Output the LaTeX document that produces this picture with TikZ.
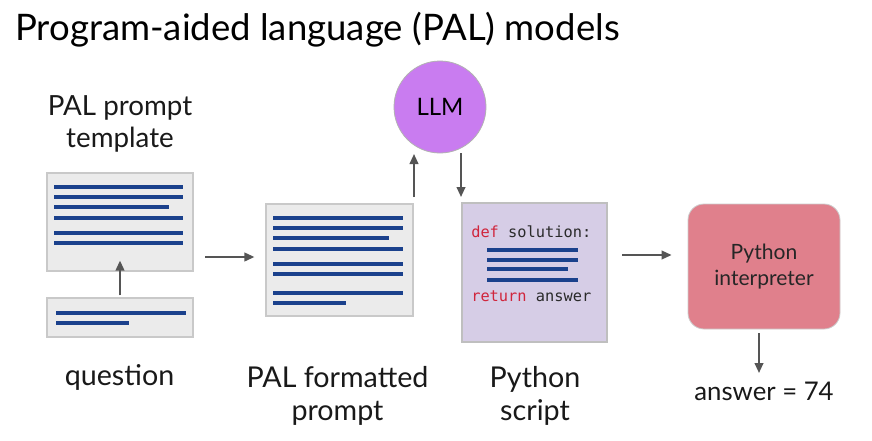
\documentclass[tikz,border=0pt]{standalone}
\usepackage{fontspec}
\setmainfont{Lato}
\setmonofont{DejaVu Sans Mono}
\usetikzlibrary{arrows.meta}
\definecolor{docfill}{HTML}{EBEBEB}
\definecolor{docedge}{HTML}{C9C9C9}
\definecolor{bar}{HTML}{1B418C}
\definecolor{arrowgray}{HTML}{555555}
\definecolor{llmfill}{HTML}{C97CF0}
\definecolor{scriptfill}{HTML}{D6CDE6}
\definecolor{interpfill}{HTML}{E0808C}
\definecolor{kw}{HTML}{D0253C}
\definecolor{codetext}{HTML}{2A2A2A}
\tikzset{
  x=0.75pt, y=-0.75pt,
  docbox/.style={draw=docedge, fill=docfill, line width=0.9pt, inner sep=0pt},
  textbar/.style={draw=bar, line width=3.2pt},
  arr/.style={draw=arrowgray, line width=1.4pt, -{Triangle[length=7.5pt,width=6.5pt]}},
  label/.style={font=\fontsize{21.5}{24.75}\selectfont, align=center, text=black!90, inner sep=0pt},
}
\begin{document}
\begin{tikzpicture}
\useasboundingbox (0,0) rectangle (872,440);
\fill[white] (0,0) rectangle (872,440);

% title
\node[anchor=base west, inner sep=0pt, font=\fontsize{27.4}{32}\selectfont] (title) at (15,40) {Program-aided language (PAL) models};

% prompt template and question
\node[label, font=\fontsize{20.8}{23.3}\selectfont, anchor=base] (tmpllbl) at (120,147) {PAL prompt\\template};
\node[docbox, minimum width=146*0.75pt, minimum height=98*0.75pt] (tmpl) at (120,222) {};
\foreach \yy/\xe in {187/183, 197/183, 207/169, 218/183, 233/183, 243/183}
  \draw[textbar] (54,\yy) -- (\xe,\yy);
\node[docbox, minimum width=146*0.75pt, minimum height=39*0.75pt] (quest) at (120,317.5) {};
\draw[textbar] (56,313) -- (186,313);
\draw[textbar] (56,323) -- (129,323);
\node[label, anchor=base] (questlbl) at (119.5,385) {question};
\draw[arr] ([yshift=2*0.75pt]quest.north) -- ([yshift=11*0.75pt]tmpl.south);

% formatted prompt
\node[docbox, minimum width=147*0.75pt, minimum height=112*0.75pt] (prompt) at (339.5,260) {};
\foreach \yy/\xe in {218/403, 228/403, 238/389, 249/403, 264/403, 274/403, 293/403, 303/346}
  \draw[textbar] (273,\yy) -- (\xe,\yy);
\node[label, anchor=base] (promptlbl) at (337.5,420) {PAL formatted\\prompt};
\coordinate (a1) at (205,257);
\draw[arr] (a1) -- ([xshift=-11*0.75pt]prompt.west |- a1);

% LLM
\node[circle, draw=black!30, line width=0.6pt, fill=llmfill, minimum size=92*0.75pt, inner sep=0pt,
      font=\fontsize{18}{22}\selectfont] (llm) at (440,107) {LLM};
\coordinate (upfoot) at (414,197);
\coordinate (uptip) at (414,154);
\draw[arr] (upfoot) -- (uptip);
\coordinate (dnfoot) at (461,153);
\coordinate (dntip) at (461,197);
\draw[arr] (dnfoot) -- (dntip);

% python script
\node[draw=black!25, fill=scriptfill, line width=0.8pt, minimum width=145*0.75pt, minimum height=139*0.75pt, inner sep=0pt] (script) at (534.5,272.5) {};
\node[anchor=base west, inner sep=0pt, font=\ttfamily\fontsize{11.5}{14}\selectfont] (defl) at (471,237) {\textcolor{kw}{def} \textcolor{codetext}{solution:}};
\foreach \yy/\xe in {250/578, 260/578, 269/568, 280/578}
  \draw[textbar] (487,\yy) -- (\xe,\yy);
\node[anchor=base west, inner sep=0pt, font=\ttfamily\fontsize{11.5}{14}\selectfont] (retl) at (471,301) {\textcolor{kw}{return} \textcolor{codetext}{answer}};
\node[label, anchor=base] (scriptlbl) at (535,420) {Python\\script};

% interpreter
\node[draw=black!20, fill=interpfill, line width=0.6pt, rounded corners=12pt, minimum width=152*0.75pt, minimum height=125*0.75pt,
      align=center, font=\fontsize{15.8}{19}\selectfont, text=black!85] (interp) at (764,266.5) {Python\\interpreter};
\coordinate (a2) at (622,255);
\draw[arr] (a2) -- ([xshift=-16*0.75pt]interp.west |- a2);
\coordinate (anspt) at (759,373);
\draw[arr] ([xshift=-5*0.75pt,yshift=-4*0.75pt]interp.south) -- (anspt);
\node[label, font=\fontsize{19.3}{24}\selectfont, anchor=base] (ans) at (764,400) {answer = 74};
\end{tikzpicture}
\end{document}
